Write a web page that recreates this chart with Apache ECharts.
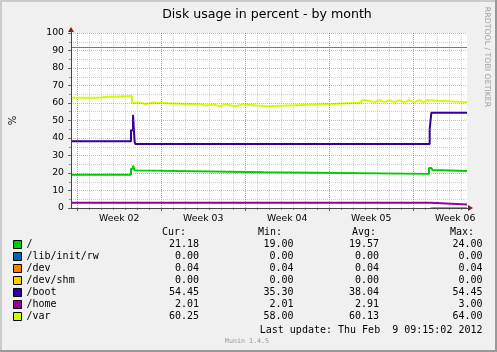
<!DOCTYPE html>
<html><head><meta charset="utf-8">
<script src="https://cdn.jsdelivr.net/npm/echarts@6/dist/echarts.min.js"></script>
<style>html,body{margin:0;padding:0;background:#F0F0F0}#c{width:497px;height:352px}</style>
</head><body><div id="c"></div>
<script>
// ---- data (x = days since left edge of the 33-day window; each pair = [start of level, value]) ----
const seriesNames = ['/', '/lib/init/rw', '/dev', '/dev/shm', '/boot', '/home', '/var'];
const seriesColors = ['#00CC00', '#0066B3', '#FF8000', '#FFCC00', '#330099', '#990099', '#CCFF00'];
const rootData = [[0,19.0],[5.0,22.5],[5.17,24.3],[5.3,21.5],[5.36,20.4],[16.09,19.5],[29.83,22.9],[30.0,24.0],[30.14,21.7],[30.22,21.18],[33,21.18]];
const libInitData = [];
const devData = [[29.97,0.04],[33,0.04]];
const devShmData = [];
const bootData = [[0,38.1],[5.0,44.5],[5.17,53.2],[5.3,38.0],[5.36,36.6],[29.89,45.0],[30.03,54.45],[33,54.45]];
const homeData = [[0,3.0],[29.97,2.01],[33,2.01]];
const varData = [[0,63.0],[2.28,63.4],[2.89,64.0],[5.08,60.2],[5.78,59.4],[6.19,60.2],[6.79,59.2],[10.86,58.6],[11.25,59.2],[11.88,58.1],[12.38,59.2],[12.87,58.1],[13.75,59.2],[14.3,58.1],[16.36,59.2],[20.49,60.2],[24.2,61.6],[24.61,60.5],[25.3,61.6],[25.71,60.5],[26.12,61.6],[26.53,60.5],[26.95,61.6],[27.36,60.5],[27.77,61.6],[28.18,60.5],[28.6,61.6],[29.01,60.5],[29.42,61.6],[29.7,60.5],[33,60.5]];
const curVals = ['21.18','0.00','0.04','0.00','54.45','2.01','60.25'];
const minVals = ['19.00','0.00','0.04','0.00','35.30','2.01','58.00'];
const avgVals = ['19.57','0.00','0.04','0.00','38.04','2.91','60.13'];
const maxVals = ['24.00','0.00','0.04','0.00','54.45','3.00','64.00'];
const weekLabels = ['Week 02','Week 03','Week 04','Week 05','Week 06'];
const warningLevel = 92;
const windowDays = 33;
const weekOffset = 0.52;
const lastUpdate = 'Last update: Thu Feb  9 09:15:02 2012';

// ---- derived ----
function toSteps(bp) {
  const out = [];
  bp.forEach((p, i) => { if (i > 0) out.push([p[0], bp[i - 1][1]]); out.push(p); });
  return out;
}
const allData = [rootData, libInitData, devData, devShmData, bootData, homeData, varData];
const dayLines = [];
for (let k = 0; weekOffset + k < windowDays; k++) dayLines.push(+(weekOffset + k).toFixed(3));
const weekLines = weekLabels.map((_, i) => +(weekOffset + 7 * i).toFixed(3));
const weekMids = weekLines.map(v => +(v + 3.5).toFixed(3));

const chart = echarts.init(document.getElementById('c'), null, {renderer: 'canvas'});
const gridL = 67, gridT = 33, gridW = 400, gridH = 175;
const mono = 'DejaVu Sans Mono';
const sans = 'DejaVu Sans';

const series = seriesNames.map((n, i) => ({
  name: n, type: 'line', data: toSteps(allData[i]), showSymbol: false,
  color: seriesColors[i], lineStyle: {width: 2, color: seriesColors[i]},
  animation: false, xAxisIndex: 0, yAxisIndex: 0, z: 2,
  markLine: i === 0 ? {silent: true, symbol: 'none', label: {show: false},
    lineStyle: {color: '#00CC00', width: 1, type: 'solid'}, data: [{yAxis: warningLevel}], animation: false} : undefined
}));

const graphics = [];
const colX = [174, 270, 364, 462];
['Cur:','Min:','Avg:','Max:'].forEach((t, j) => graphics.push({type:'text', x: colX[j], y: 232.5,
  style:{text: t, font: '10px ' + mono, fill:'#000', textAlign:'center', textVerticalAlign:'middle'}}));
const valRight = [199, 293.5, 379, 482.5];
[curVals, minVals, avgVals, maxVals].forEach((arr, j) => arr.forEach((v, i) => graphics.push({type:'text',
  x: valRight[j], y: 244.5 + 12 * i, style:{text: v, font: '10px ' + mono, fill:'#000', textAlign:'right', textVerticalAlign:'middle'}})));
graphics.push({type:'text', x: 482.5, y: 330, style:{text: lastUpdate, font:'10px ' + mono, fill:'#000', textAlign:'right', textVerticalAlign:'middle'}});
graphics.push({type:'text', x: 247, y: 341.5, style:{text:'Munin 1.4.5', font:'6.7px ' + mono, fill:'#999', textAlign:'center', textVerticalAlign:'middle'}});
graphics.push({type:'text', x: 487.5, y: 57, rotation: -Math.PI/2, style:{text:'RRDTOOL / TOBI OETIKER', font:'7.8px ' + sans, fill:'#A0A0A0', textAlign:'center', textVerticalAlign:'middle'}});
graphics.push({type:'rect', shape:{x:0,y:0,width:497,height:2}, style:{fill:'#CBCBCB'}, z: 100});
graphics.push({type:'rect', shape:{x:0,y:0,width:2,height:352}, style:{fill:'#CBCBCB'}, z: 100});
graphics.push({type:'rect', shape:{x:0,y:350,width:497,height:2}, style:{fill:'#999999'}, z: 100});
graphics.push({type:'rect', shape:{x:495,y:0,width:2,height:352}, style:{fill:'#999999'}, z: 100});

const majorGrid = {color: 'rgba(230,60,60,0.45)', width: 1, type: [1, 1]};
const minorGrid = {color: 'rgba(150,150,150,0.45)', width: 1, type: [1, 1]};

chart.setOption({
  animation: false,
  backgroundColor: '#F0F0F0',
  title: {text: 'Disk usage in percent - by month', left: 262, top: 3, textAlign: 'center',
    textStyle: {fontFamily: sans, fontSize: 12.6, fontWeight: 'normal', color: '#000'}},
  grid: {left: gridL, top: gridT, width: gridW, height: gridH, show: true, backgroundColor: '#FFFFFF', borderWidth: 0},
  legend: {orient: 'vertical', left: 13, top: 238.5, padding: 0, itemWidth: 8, itemHeight: 8, itemGap: 0,
    icon: 'rect', selectedMode: false, data: seriesNames,
    itemStyle: {borderColor: '#000', borderWidth: 1},
    textStyle: {fontFamily: mono, fontSize: 10, color: '#000', lineHeight: 12}},
  xAxis: [
    {type: 'value', min: 0, max: windowDays, z: 0, position: 'bottom',
      axisLine: {show: false}, axisLabel: {show: false},
      axisTick: {show: true, customValues: dayLines, length: 2, lineStyle: {color: '#888'}},
      splitLine: {show: true, lineStyle: minorGrid}},
    {type: 'value', min: 0, max: windowDays, z: 1, position: 'bottom',
      axisLine: {show: false},
      axisTick: {show: true, customValues: weekLines, length: 3, lineStyle: {color: '#666'}},
      axisLabel: {show: true, customValues: weekMids, margin: 6, fontFamily: sans, fontSize: 9.3, color: '#000',
        formatter: v => weekLabels[Math.round((v - weekOffset - 3.5) / 7)] || ''},
      splitLine: {show: true, lineStyle: majorGrid}},
    {type: 'value', min: 0, max: windowDays, z: 5, position: 'bottom',
      axisLine: {show: true, lineStyle: {color: '#444', width: 1}},
      axisTick: {show: false}, axisLabel: {show: false}, splitLine: {show: false}}
  ],
  yAxis: {type: 'value', min: 0, max: 100, interval: 10, z: 5,
    name: '%', nameLocation: 'middle', nameGap: 53, nameRotate: 90,
    nameTextStyle: {fontFamily: sans, fontSize: 10, color: '#000'},
    axisLine: {show: true, lineStyle: {color: '#444', width: 1}},
    axisTick: {show: true, length: 3, lineStyle: {color: '#666'}},
    minorTick: {show: true, splitNumber: 2, length: 2, lineStyle: {color: '#999'}},
    axisLabel: {margin: 7, fontFamily: sans, fontSize: 9.3, color: '#000'},
    splitLine: {show: true, lineStyle: majorGrid},
    minorSplitLine: {show: true, lineStyle: minorGrid}},
  series: series,
  graphic: graphics
});

const pEnd = chart.convertToPixel({xAxisIndex: 0, yAxisIndex: 0}, [windowDays, 0]);
const pTop = chart.convertToPixel({xAxisIndex: 0, yAxisIndex: 0}, [0, 100]);
chart.setOption({graphic: graphics.concat([
  {type: 'polygon', shape: {points: [[pEnd[0] + 1, pEnd[1] - 3], [pEnd[0] + 6, pEnd[1]], [pEnd[0] + 1, pEnd[1] + 3]]}, style: {fill: '#7F1F1F'}, z: 50},
  {type: 'line', shape: {x1: pEnd[0], y1: pEnd[1] + 0.5, x2: pEnd[0] + 2, y2: pEnd[1] + 0.5}, style: {stroke: '#444'}, z: 50},
  {type: 'polygon', shape: {points: [[pTop[0] - 3, pTop[1] - 1], [pTop[0], pTop[1] - 6], [pTop[0] + 3, pTop[1] - 1]]}, style: {fill: '#7F1F1F'}, z: 50},
  {type: 'line', shape: {x1: pTop[0] + 0.5, y1: pTop[1], x2: pTop[0] + 0.5, y2: pTop[1] - 2}, style: {stroke: '#444'}, z: 50}
])});
</script></body></html>
